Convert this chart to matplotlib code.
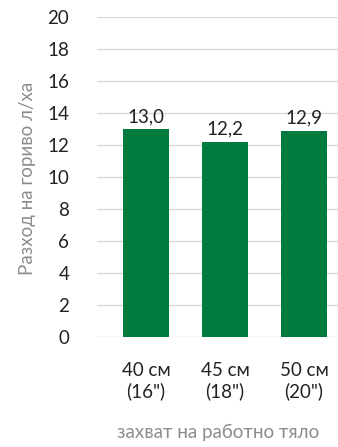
import matplotlib.pyplot as plt

categories = ['40 см\n(16")', '45 см\n(18")', '50 см\n(20")']
values = [13.0, 12.2, 12.9]
value_labels = ['13,0', '12,2', '12,9']
yticks = [0, 2, 4, 6, 8, 10, 12, 14, 16, 18, 20]

plt.rcParams['font.family'] = ['Lato', 'DejaVu Sans']

fig = plt.figure(figsize=(3.38, 4.47), dpi=100)
ax = fig.add_axes([97 / 338, 1 - 337 / 447, 241 / 338, 320 / 447])

x = list(range(len(categories)))
bars = ax.bar(x, values, width=0.58, color='#007a3d', zorder=3)

for xi, v, lab in zip(x, values, value_labels):
    ax.text(xi, v + 0.25, lab, ha='center', va='bottom', fontsize=13.5, color='#222222')

ax.set_ylim(0, 20)
ax.set_xlim(-0.62, 2.43)
ax.set_yticks(yticks)
ax.set_yticklabels([str(t) for t in yticks], fontsize=13.5, color='#222222')
ax.set_xticks(x)
ax.set_xticklabels(categories, fontsize=13.5, color='#222222', linespacing=1.2)
ax.tick_params(axis='both', length=0, pad=18)
ax.tick_params(axis='y', pad=20)
ax.yaxis.grid(True, color='#d9d9d9', linewidth=1, zorder=0)
for s in ax.spines.values():
    s.set_visible(False)

fig.text(27 / 338, 1 - 178 / 447, 'Разход на гориво л/ха', rotation=90,
         ha='center', va='center', fontsize=13.5, color='#8c8c8c')
fig.text(218 / 338, 1 - 432 / 447, 'захват на работно тяло',
         ha='center', va='center', fontsize=13.5, color='#8c8c8c')

fig.savefig('out.png', dpi=100)
